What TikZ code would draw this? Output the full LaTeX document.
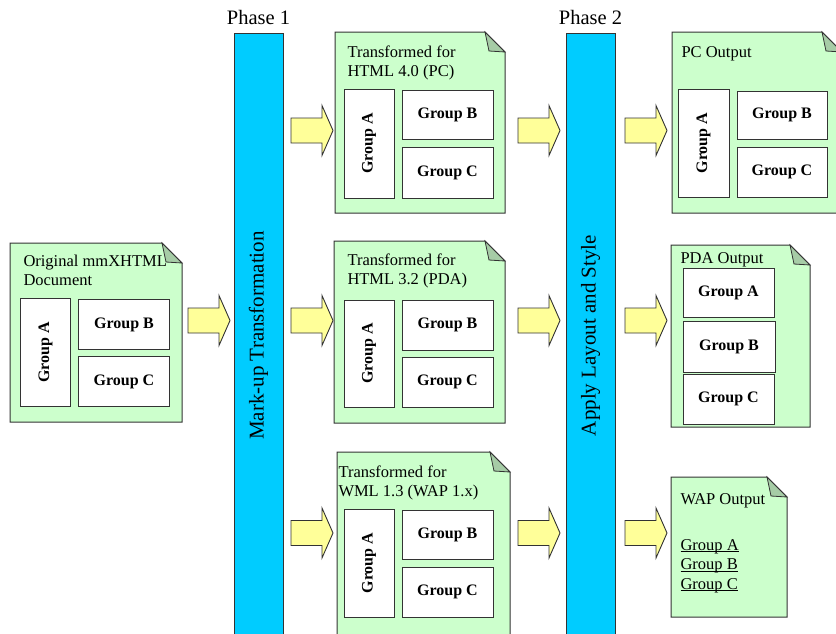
\documentclass[tikz,border=0pt]{standalone}
\usepackage{fontspec}
\setmainfont{Liberation Serif}

\definecolor{docgreen}{HTML}{CCFFCC}
\definecolor{foldgreen}{HTML}{A6CCA6}
\definecolor{barblue}{HTML}{00CCFF}
\definecolor{arrowyellow}{HTML}{FFFF99}
\definecolor{linegray}{HTML}{333333}

% page with a folded top right corner: name, left, top, right, bottom
\newcommand\docpage[5]{%
  \filldraw[page] (#2,#3) coordinate (#1-nw) -- (#4-20,#3) -- (#4,#3+20)
    -- (#4,#5) coordinate (#1-se) -- (#2,#5) -- cycle;
  \filldraw[fold] (#4-20,#3) -- (#4-16,#3+19) -- (#4,#3+20) -- cycle;
}
% link-like underline, just below the baseline
\newcommand\linkline[1]{\underline{\smash{#1}}}

\begin{document}
\begin{tikzpicture}[x=1pt,y=-1pt,line width=1pt,
  page/.style={draw=linegray,fill=docgreen},
  fold/.style={draw=linegray,fill=foldgreen,line width=.8pt},
  grp/.style={draw=linegray,fill=white,inner sep=0pt,
    font=\bfseries\fontsize{16}{18}\selectfont},
  title/.style={align=left,inner sep=0pt,anchor=base west,
    font=\fontsize{16.5}{19.5}\selectfont},
  phase/.style={inner sep=0pt,anchor=base,font=\fontsize{20.5}{24}\selectfont},
  bar/.style={draw=linegray,fill=barblue,rotate=90,anchor=east,
    minimum width=604pt,minimum height=49pt,inner sep=0pt,
    font=\fontsize{21}{24}\selectfont},
  barrow/.pic={\filldraw[draw=linegray,fill=arrowyellow,line width=.9pt]
    (0,-12.5) -- (31,-12.5) -- (31,-25) -- (42,0) -- (31,25) -- (31,12.5)
    -- (0,12.5) -- cycle;}]
\useasboundingbox (0,0) rectangle (836,633);

% phases
\node[phase] (ph1) at (258.5,24) {Phase 1};
\node[phase] (ph2) at (590.5,24) {Phase 2};
\node[bar] (p1) at (258.5,33) {Mark-up Transformation};
\node[bar] (p2) at (590.5,33) {Apply Layout and Style};

% original document (titles sit on their last line)
\docpage{orig}{10}{243}{182}{422}
\node[title] (orig-t) at (23,285.5) {Original mmXHTML\\Document};
\node[grp,rotate=90,minimum width=108pt,minimum height=50pt] (orig-a) at (45.5,352.5) {Group A};
\node[grp,minimum width=91pt,minimum height=50pt] (orig-b) at (124,324.5) {Group B};
\node[grp,minimum width=91pt,minimum height=50pt] (orig-c) at (124,381.5) {Group C};

% transformed documents
\docpage{t1}{335}{32}{505}{213}
\node[title] (t1-t) at (347,76.5) {Transformed for\\HTML 4.0 (PC)};
\node[grp,rotate=90,minimum width=109pt,minimum height=50pt] (t1-a) at (369,143.5) {Group A};
\node[grp,minimum width=91pt,minimum height=49pt] (t1-b) at (447.5,115) {Group B};
\node[grp,minimum width=91pt,minimum height=51pt] (t1-c) at (447.5,172.5) {Group C};

\docpage{t2}{334}{241}{505}{423}
\node[title] (t2-t) at (347,284.5) {Transformed for\\HTML 3.2 (PDA)};
\node[grp,rotate=90,minimum width=107pt,minimum height=50pt] (t2-a) at (369,353.5) {Group A};
\node[grp,minimum width=91pt,minimum height=50pt] (t2-b) at (447.5,325) {Group B};
\node[grp,minimum width=91pt,minimum height=50pt] (t2-c) at (447.5,382) {Group C};

\docpage{t3}{337}{452}{510}{645}
\node[title] (t3-t) at (338,496.5) {Transformed for\\WML 1.3 (WAP 1.x)};
\node[grp,rotate=90,minimum width=108pt,minimum height=50pt] (t3-a) at (369,563) {Group A};
\node[grp,minimum width=91pt,minimum height=49pt] (t3-b) at (447.5,534.5) {Group B};
\node[grp,minimum width=91pt,minimum height=50pt] (t3-c) at (447.5,592) {Group C};

% outputs
\docpage{pc}{672}{32}{842}{213}
\node[title] (pc-t) at (681,57) {PC Output};
\node[grp,rotate=90,minimum width=108pt,minimum height=51pt] (pc-a) at (703.5,143) {Group A};
\node[grp,minimum width=90pt,minimum height=48pt] (pc-b) at (782,115) {Group B};
\node[grp,minimum width=90pt,minimum height=50pt] (pc-c) at (782,172) {Group C};

\docpage{pda}{671}{245}{810}{427}
\node[title] (pda-t) at (680,263) {PDA Output};
\node[grp,minimum width=91pt,minimum height=49pt] (pda-a) at (728.5,292.5) {Group A};
\node[grp,minimum width=92pt,minimum height=51pt] (pda-b) at (729,346.5) {Group B};
\node[grp,minimum width=91pt,minimum height=50pt] (pda-c) at (728.5,399) {Group C};

\docpage{wap}{671}{477}{787}{617}
\node[title] (wap-t) at (680,504) {WAP Output};
\node[title] (wap-g) at (680,589) {\linkline{Group A}\\\linkline{Group B}\\\linkline{Group C}};

% block arrows
\pic at (188,320.5) {barrow};
\foreach \x in {291,518,625}
  \foreach \y in {130.5,320.5,533}
    \pic at (\x,\y) {barrow};

\end{tikzpicture}
\end{document}
